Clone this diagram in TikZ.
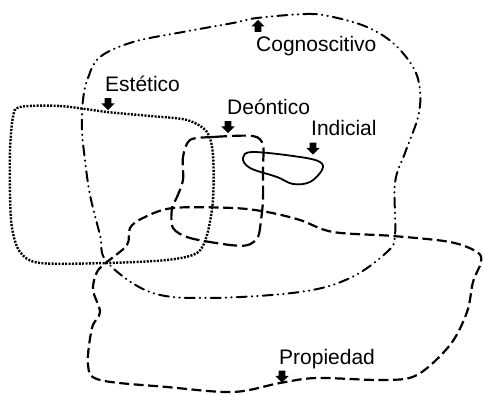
\documentclass[tikz,border=0pt]{standalone}
\usepackage{fontspec}
\setmainfont{Liberation Sans}
\usepackage{tikz}
\usetikzlibrary{shapes.arrows}
\tikzstyle{lbl}=[inner sep=0pt,font=\fontsize{21}{24}\selectfont]
\tikzstyle{arr}=[single arrow,fill=black,draw=none,inner sep=3.2pt,
  single arrow head extend=3.3pt,minimum height=12pt]
\tikzstyle{cog}=[line width=2pt,line cap=round,
  dash pattern=on 10pt off 5pt on 0.5pt off 5pt on 0.5pt off 5pt]
\tikzstyle{est}=[line width=2.4pt,dash pattern=on 2pt off 1.4pt]
\tikzstyle{deo}=[line width=2.2pt,dash pattern=on 14pt off 5pt]
\tikzstyle{ind}=[line width=1.8pt]
\tikzstyle{prop}=[line width=2.2pt,dash pattern=on 10pt off 4.5pt]

\begin{document}
\begin{tikzpicture}[x=1pt,y=-1pt]
    \useasboundingbox (0,0) rectangle (483,395);
    % regions
    \draw [style=cog] plot [smooth cycle,tension=0.6] coordinates {(257,18) (307,14) (333,17)
      (367,27) (393,43) (413,67) (420,90) (418,117) (405,153) (395,183) (395,235)
      (387,252) (350,278) (300,292) (207,298) (150,292) (107,262) (100,235) (90,195)
      (85,160) (82,130) (83,100) (88,78) (100,57) (133,42) (183,32) (233,23)};
    \draw [style=est] plot [smooth cycle,tension=0.5] coordinates {(20,107) (60,106) (107,112)
      (150,116) (187,120) (207,132) (213,155) (213,200) (207,235) (197,253) (167,260)
      (107,263) (40,263) (20,252) (12,228) (10,195) (10,150) (13,117)};
    \draw [style=deo] plot [smooth cycle,tension=0.5] coordinates {(190,140) (213,137) (253,136)
      (263,145) (263,167) (263,200) (261,220) (258,237) (248,245) (230,245) (190,238)
      (173,228) (172,208) (177,197) (183,180) (183,157)};
    \draw [style=ind] plot [smooth cycle,tension=0.6] coordinates {(243,158) (253,152) (300,157)
      (320,162) (322,170) (310,182) (293,184) (277,177) (250,168)};
    \draw [style=prop] plot [smooth cycle,tension=0.55] coordinates {(107,262) (127,245) (130,228)
      (143,218) (173,208) (233,208) (267,212) (300,220) (333,232) (393,236) (450,242)
      (477,252) (481,262) (473,282) (467,312) (450,345) (417,375) (383,380) (317,378)
      (280,383) (233,392) (167,387) (100,380) (88,365) (92,328) (100,312) (93,290) (97,272)};
    % labels
    \node [style=lbl,anchor=base west] (cogl) at (256,52) {Cognoscitivo};
    \node [style=lbl,anchor=base west] (estl) at (105,92) {Estético};
    \node [style=lbl,anchor=base west] (deol) at (227,115) {Deóntico};
    \node [style=lbl,anchor=base west] (indl) at (311,136) {Indicial};
    \node [style=lbl,anchor=base west] (propl) at (279,365) {Propiedad};
    \node [style=arr,shape border rotate=90] (coga) at (258,27.5) {};
    \node [style=arr,shape border rotate=270] (esta) at (108,102.5) {};
    \node [style=arr,shape border rotate=270] (deoa) at (228,125.5) {};
    \node [style=arr,shape border rotate=270] (inda) at (313,147) {};
    \node [style=arr,shape border rotate=270] (propa) at (282,375) {};
  \end{tikzpicture}
\end{document}
